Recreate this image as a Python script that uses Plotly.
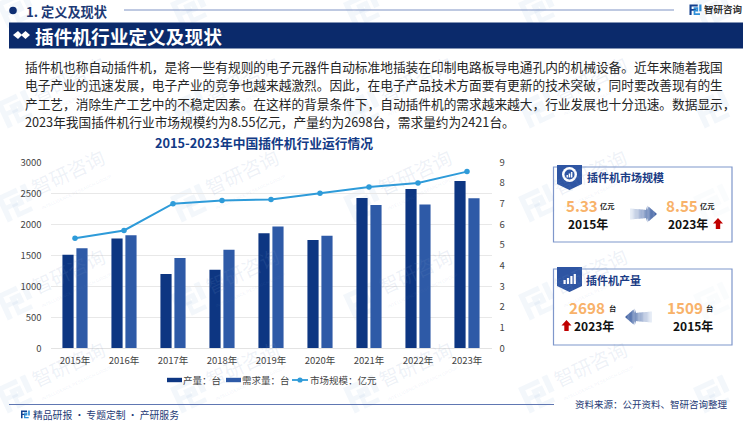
import math
import plotly.graph_objects as go

years = ["2015年","2016年","2017年","2018年","2019年","2020年","2021年","2022年","2023年"]
output_units = [1509,1770,1200,1265,1855,1745,2425,2570,2698]
demand_units = [1615,1825,1455,1590,1965,1815,2310,2320,2421]
market_size = [5.33,5.7,7.0,7.15,7.2,7.5,7.8,8.0,8.55]
left_ticks = [0,500,1000,1500,2000,2500,3000]
right_ticks = [0,1,2,3,4,5,6,7,8,9]
body_lines = [
 "插件机也称自动插件机，是将一些有规则的电子元器件自动标准地插装在印制电路板导电通孔内的机械设备。近年来随着我国",
 "电子产业的迅速发展，电子产业的竞争也越来越激烈。因此，在电子产品技术方面要有更新的技术突破，同时要改善现有的生",
 "产工艺，消除生产工艺中的不稳定因素。在这样的背景条件下，自动插件机的需求越来越大，行业发展也十分迅速。数据显示，",
 "2023年我国插件机行业市场规模约为8.55亿元，产量约为2698台，需求量约为2421台。",
]

W, H = 750, 423
CJK = "Noto Sans CJK SC"
NAVY = "#0B2A6B"
BAR1, BAR2, LINE = "#0D3682", "#2E5AA7", "#2E9BD9"
px = lambda x: x / W
py = lambda y: 1 - y / H

fig = go.Figure()
fig.add_bar(x=years, y=output_units, name="产量：台", marker_color=BAR1, marker_line_width=0)
fig.add_bar(x=years, y=demand_units, name="需求量：台", marker_color=BAR2, marker_line_width=0)
fig.add_scatter(x=years, y=market_size, name="市场规模：亿元", yaxis="y2", mode="lines+markers",
                line=dict(color=LINE, width=2), marker=dict(color=LINE, size=5.5))

shapes, ann = [], []

def rect(x0, y0, x1, y1, fill, line=None, lw=0, layer="below"):
    shapes.append(dict(type="rect", xref="paper", yref="paper", x0=px(x0), x1=px(x1), y0=py(y0), y1=py(y1),
                       fillcolor=fill, line=dict(color=line or "rgba(0,0,0,0)", width=lw), layer=layer))

def hline(x0, x1, y, color, w=1):
    shapes.append(dict(type="line", xref="paper", yref="paper", x0=px(x0), x1=px(x1), y0=py(y), y1=py(y),
                       line=dict(color=color, width=w), layer="below"))

def poly(pts, fill, layer="below"):
    d = "M " + " L ".join(f"{px(a):.5f} {py(b):.5f}" for a, b in pts) + " Z"
    shapes.append(dict(type="path", xref="paper", yref="paper", path=d, fillcolor=fill,
                       line=dict(width=0), layer=layer))

def circle(cx, cy, r, fill):
    shapes.append(dict(type="circle", xref="paper", yref="paper", x0=px(cx-r), x1=px(cx+r),
                       y0=py(cy+r), y1=py(cy-r), fillcolor=fill, line=dict(width=0), layer="below"))

def text(x, y, s, size, color, bold=False, anchor="left", angle=0, family=CJK):
    t = f"<b>{s}</b>" if bold else s
    ann.append(dict(xref="paper", yref="paper", x=px(x), y=py(y), text=t, showarrow=False, xanchor=anchor,
                    yanchor="middle", textangle=angle, font=dict(family=family, size=size, color=color),
                    borderpad=0, borderwidth=0))

LOGO_A = [[(0,0),(11,0),(11,2.6),(2.8,2.6),(2.8,6),(8.5,6),(8.5,8.4),(2.8,8.4),(2.8,14),(0,14)]]
LOGO_B = [[(5.5,3.8),(11.5,3.8),(11.5,9.2),(7.8,9.2),(7.8,11.6),(14,11.6),(14,14),(5.5,14),(5.5,7),(9,7),(9,6),(5.5,6)],
          [(13,0),(16,0),(16,9),(13,9)]]

def logo(x, y, s, angle, c1, c2):
    a = math.radians(angle)
    def tf(p):
        u, v = p[0]*s, p[1]*s
        return (x + u*math.cos(a) + v*math.sin(a), y - u*math.sin(a) + v*math.cos(a))
    for p in LOGO_A:
        poly([tf(q) for q in p], c1)
    for p in LOGO_B:
        poly([tf(q) for q in p], c2)

# watermark tiles
WM = "rgba(120,150,195,0.13)"
WL = "rgba(150,180,215,0.11)"
for cy in (-22, 78, 172, 270, 363):
    for cx in (68, 242, 415, 590, 765):
        logo(cx-72, cy+25, 2.0, 25, WL, WL)
        if cy > 0 and cx < 700:
            text(cx, cy, "智研咨询", 19.5, WM, angle=-25, anchor="center")
            text(cx+8, cy+20, "INTELLIGENCE RESEARCH GROUP", 4.5, WM, angle=-25, anchor="center", family="Liberation Sans")

# header
circle(13, 10.5, 3.8, "#0F2F73")
text(26, 11, "1. 定义及现状", 13.2, "#1E3A75", bold=True)
hline(124, 674, 10, "#7F93C4", 1)
logo(689.5, 4.5, 0.75, 0, "#12408F", "#2F8FD8")
text(704, 9.5, "智研咨询", 9.5, "#333333", bold=True)
rect(9, 22.5, 743, 48.5, NAVY)
poly([(13,35),(18,31),(22,35),(18,39)], "#FFFFFF")
poly([(21,35),(25.5,31),(30,35),(25.5,39)], "#FFFFFF")
text(35, 35, "插件机行业定义及现状", 18.7, "#FFFFFF", bold=True)

# body
for y, s in zip((66, 85, 103.5, 122), body_lines):
    text(25, y, s, 12.7, "#262626")

text(264, 142, "2015-2023年中国插件机行业运行情况", 12.75, "#123A86", bold=True, anchor="center")

# legend key row, matching the short swatches of the source
rect(167, 377.8, 182, 382.2, BAR1)
text(183, 380, "产量：台", 9.5, "#444444")
rect(226, 377.8, 241, 382.2, BAR2)
text(242, 380, "需求量：台", 9.5, "#444444")
hline(292, 308, 380, LINE, 1.8)
circle(300, 380, 2.6, LINE)
text(310, 380, "市场规模：亿元", 9.5, "#444444")

# footer
hline(9, 554, 404.5, "#6077B2", 1.2)
logo(21, 410.5, 0.55, 0, "#12408F", "#2F8FD8")
text(33, 415, "精品研报 · 专题定制 · 产研服务", 9.8, "#1E3A75")
text(575, 403.5, "资料来源：公开资料、智研咨询整理", 9.5, "#1E3A75")

def gradient_arrow(x0, x1, yc):
    # x0 is the pale tail, x1 the dark tip
    n = 22
    L = x1 - x0
    head = 0.36
    c_light, c_dark = (232, 238, 247), (58, 92, 160)
    def half(t):
        if t <= 1-head:
            return 5.5 - 1.5*t/(1-head)
        return 8.5*(1-t)/head
    for i in range(n):
        t0, t1 = i/n, min((i+1.15)/n, 1)
        col = tuple(round(c_light[k] + (c_dark[k]-c_light[k])*(i/(n-1))) for k in range(3))
        pts = [(x0+L*t0, yc-half(t0)), (x0+L*t1, yc-half(t1)), (x0+L*t1, yc+half(t1)), (x0+L*t0, yc+half(t0))]
        poly(pts, f"rgb{col}")

def red_up(x, y):
    poly([(x,y+5.5),(x+5,y),(x+10,y+5.5),(x+7.2,y+5.5),(x+7.2,y+11),(x+2.8,y+11),(x+2.8,y+5.5)], "#C00000")

def tab(x, y):
    poly([(x,y),(x+25,y),(x+25,y+19),(x+12.5,y+25),(x,y+19)], "#2E55A3")

# card 1
rect(553.5, 167, 732, 242, "rgba(255,255,255,0.6)", "#7F97CB", 1.2)
tab(557, 165)
circle(569.5, 174.5, 7.5, "#FFFFFF")
circle(569.5, 174.5, 5, "#2E55A3")
for i, h in enumerate((2.5, 4, 5.5)):
    rect(566.5+i*2.2, 177.5-h, 568+i*2.2, 177.5, "#FFFFFF")
text(586.5, 177, "插件机市场规模", 11, "#1B3C85", bold=True)
text(565.5, 205, "5.33", 15.2, "#F8B26A", bold=True)
text(599.5, 206, "亿元", 7.3, "#222222", bold=True)
text(568, 223, "2015年", 12, "#111111", bold=True)
gradient_arrow(630, 657, 214)
text(665.5, 205, "8.55", 15.2, "#F8B26A", bold=True)
text(700, 206, "亿元", 7.3, "#222222", bold=True)
text(668, 223, "2023年", 12, "#111111", bold=True)
red_up(713, 218)

# card 2
rect(553.5, 269, 732, 345, "rgba(255,255,255,0.6)", "#7F97CB", 1.2)
tab(557, 267)
for i, h in enumerate((4, 6, 8, 10)):
    rect(563.5+i*3.4, 284-h, 565.7+i*3.4, 284, "#FFFFFF")
text(586, 280, "插件机产量", 11, "#1B3C85", bold=True)
text(569, 307, "2698", 15.2, "#F8B26A", bold=True)
text(609, 308, "台", 7.3, "#222222", bold=True)
text(574, 325, "2023年", 12, "#111111", bold=True)
red_up(561.5, 320)
gradient_arrow(652, 625, 317)
text(667, 307, "1509", 15.2, "#F8B26A", bold=True)
text(706, 308, "台", 7.3, "#222222", bold=True)
text(673, 325, "2015年", 12, "#111111", bold=True)

fig.update_layout(
    width=W, height=H, margin=dict(l=0, r=0, t=0, b=0, autoexpand=False), autosize=False,
    paper_bgcolor="#FFFFFF", plot_bgcolor="rgba(0,0,0,0)",
    font=dict(family=CJK, size=9.5, color="#444444"),
    barmode="group", bargap=0.43, bargroupgap=0.2, showlegend=False,
    xaxis=dict(domain=[px(50.5), px(491.5)], anchor="y", showline=True, linecolor="#E3E3E3", linewidth=1,
               ticks="", tickfont=dict(size=9.5, color="#444444"), fixedrange=True, ticklabelstandoff=3,
               range=[-0.5, 8.5]),
    yaxis=dict(domain=[py(348.3), py(162.3)], range=[0, 3000], tickvals=left_ticks, gridcolor="#E8E8E8", gridwidth=1.3,
               zeroline=False, tickfont=dict(size=9.5, color="#444444"), ticklabelstandoff=8),
    yaxis2=dict(overlaying="y", side="right", anchor="x", range=[0, 9], tickvals=right_ticks, showgrid=False,
                zeroline=False, tickfont=dict(size=9.5, color="#444444"), ticklabelstandoff=7),
    shapes=shapes, annotations=ann,
)
fig.write_html("out.html", post_script="document.body.style.margin='0';document.body.style.overflow='hidden';",
               config=dict(displayModeBar=False))
